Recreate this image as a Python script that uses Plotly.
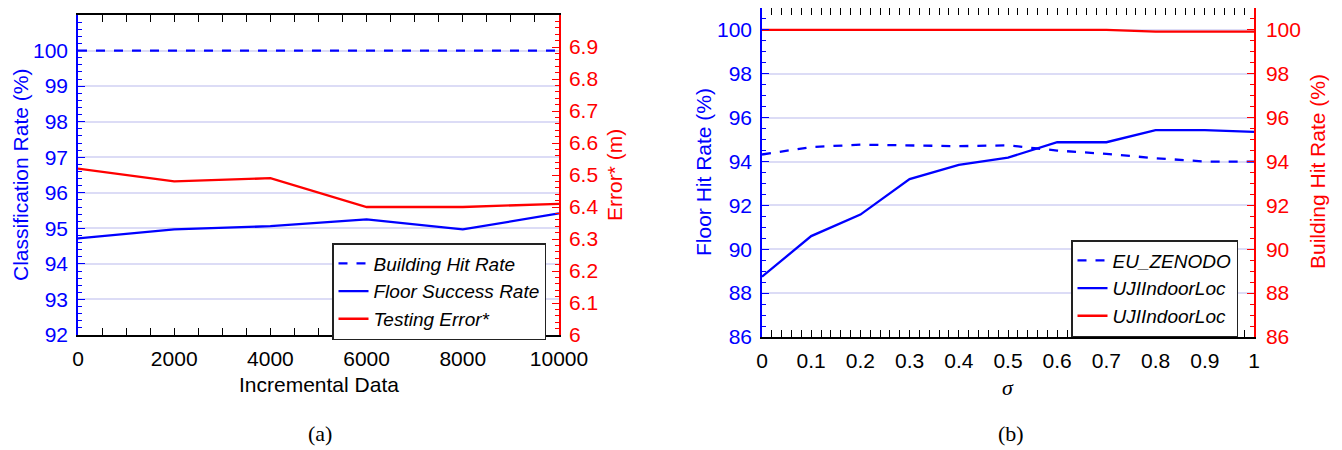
import plotly.graph_objects as go

# ---- data (a) ----
incr_x = [0, 2000, 4000, 6000, 8000, 10000]
building_hit_a = [100, 100, 100, 100, 100, 100]
floor_success_a = [94.72, 94.97, 95.06, 95.25, 94.97, 95.42]
testing_error_a = [6.52, 6.48, 6.49, 6.40, 6.40, 6.41]

# ---- data (b) ----
sigma_x = [0, 0.1, 0.2, 0.3, 0.4, 0.5, 0.6, 0.7, 0.8, 0.9, 1.0]
eu_zenodo_floor = [94.32, 94.66, 94.77, 94.72, 94.70, 94.74, 94.50, 94.35, 94.15, 94.0, 94.0]
uji_floor = [88.75, 90.6, 91.58, 93.2, 93.85, 94.18, 94.88, 94.88, 95.43, 95.43, 95.35]
uji_building = [100, 100, 100, 100, 100, 100, 100, 100, 99.92, 99.92, 99.92]

left_ticks_a = [92, 93, 94, 95, 96, 97, 98, 99, 100]
right_ticks_a = [6.0, 6.1, 6.2, 6.3, 6.4, 6.5, 6.6, 6.7, 6.8, 6.9, 7.0]
right_ticktext_a = ["6", "6.1", "6.2", "6.3", "6.4", "6.5", "6.6", "6.7", "6.8", "6.9", "7"]
ticks_b = [86, 88, 90, 92, 94, 96, 98, 100]
sigma_ticks = [0, 0.1, 0.2, 0.3, 0.4, 0.5, 0.6, 0.7, 0.8, 0.9, 1]
sigma_ticktext = ["0", "0.1", "0.2", "0.3", "0.4", "0.5", "0.6", "0.7", "0.8", "0.9", "1"]

BLUE = "#0000ff"
RED = "#ff0000"
GRID = "#dcdcf6"
SANS = "Liberation Sans, Arial, sans-serif"
SERIF = "Liberation Serif, Times New Roman, serif"
FS = 21
LW = 2.3

# page body has an 8px margin; figure is sized so it fits in the window
OFF = 8
W, H = 1342 - OFF, 450 - OFF
def clamp(v):
    return max(0.0, min(1.0, v))
def fx(x):
    return clamp((x - OFF) / W)
def fy(y):
    return clamp(1 - (y - OFF) / H)
def px(x0, x1):
    return [fx(x0), fx(x1)]
def py(top, bottom):
    return [fy(bottom), fy(top)]

fig = go.Figure()

fig.add_trace(go.Scatter(x=incr_x, y=building_hit_a, mode="lines", name="<i>Building Hit Rate</i>",
                         line=dict(color=BLUE, width=LW, dash="dash"), xaxis="x", yaxis="y", legend="legend"))
fig.add_trace(go.Scatter(x=incr_x, y=floor_success_a, mode="lines", name="<i>Floor Success Rate</i>",
                         line=dict(color=BLUE, width=LW), xaxis="x", yaxis="y", legend="legend"))
fig.add_trace(go.Scatter(x=incr_x, y=testing_error_a, mode="lines", name="<i>Testing Error*</i>",
                         line=dict(color=RED, width=LW), xaxis="x", yaxis="y2", legend="legend"))

fig.add_trace(go.Scatter(x=sigma_x, y=eu_zenodo_floor, mode="lines", name="<i>EU_ZENODO</i>",
                         line=dict(color=BLUE, width=LW, dash="dash"), xaxis="x2", yaxis="y3", legend="legend2"))
fig.add_trace(go.Scatter(x=sigma_x, y=uji_floor, mode="lines", name="<i>UJIIndoorLoc</i>",
                         line=dict(color=BLUE, width=LW), xaxis="x2", yaxis="y3", legend="legend2"))
fig.add_trace(go.Scatter(x=sigma_x, y=uji_building, mode="lines", name="<i>UJIIndoorLoc</i>",
                         line=dict(color=RED, width=LW), xaxis="x2", yaxis="y4", legend="legend2"))

common_x = dict(showline=True, linecolor="black", linewidth=1.5, mirror="allticks", ticks="inside",
                ticklen=7, tickcolor="black", tickwidth=1.2, showgrid=False, zeroline=False,
                tickfont=dict(family=SANS, size=FS, color="black"), ticklabelstandoff=4,
                automargin=False)

fig.update_layout(
    width=W, height=H,
    margin=dict(l=0, r=0, t=0, b=0, autoexpand=False),
    paper_bgcolor="white", plot_bgcolor="white",
    showlegend=True,
    xaxis=dict(domain=px(78, 559), anchor="y", range=[0, 10000], tickmode="array",
               tickvals=incr_x, ticktext=[str(v) for v in incr_x],
               minor=dict(ticks="inside", dtick=500, tick0=0, ticklen=4, tickcolor="black", showgrid=False),
               **common_x),
    yaxis=dict(domain=py(15, 335), anchor="x", range=[92, 101], tickmode="array", tickvals=left_ticks_a,
               showline=True, linecolor=BLUE, linewidth=1.5, ticks="inside", ticklen=7, tickcolor=BLUE,
               minor=dict(ticks="inside", dtick=0.2, tick0=92, ticklen=4, tickcolor=BLUE, showgrid=False),
               showgrid=True, gridcolor=GRID, gridwidth=1.5, zeroline=False, automargin=False,
               tickfont=dict(family=SANS, size=FS, color=BLUE), ticklabelstandoff=4),
    yaxis2=dict(overlaying="y", side="right", anchor="x", range=[6, 7], tickmode="array",
                tickvals=right_ticks_a, ticktext=right_ticktext_a,
                showline=True, linecolor=RED, linewidth=1.5, ticks="inside", ticklen=7, tickcolor=RED,
                minor=dict(ticks="inside", dtick=0.02, tick0=6, ticklen=4, tickcolor=RED, showgrid=False),
                showgrid=False, zeroline=False, automargin=False,
                tickfont=dict(family=SANS, size=FS, color=RED), ticklabelstandoff=4),
    xaxis2=dict(domain=px(762, 1254), anchor="y3", range=[0, 1], tickmode="array",
                tickvals=sigma_ticks, ticktext=sigma_ticktext,
                minor=dict(ticks="inside", dtick=0.02, tick0=0, ticklen=4, tickcolor="black", showgrid=False),
                **common_x),
    yaxis3=dict(domain=py(8, 337), anchor="x2", range=[86, 101], tickmode="array", tickvals=ticks_b,
                showline=True, linecolor=BLUE, linewidth=1.5, ticks="inside", ticklen=7, tickcolor=BLUE,
                minor=dict(ticks="inside", dtick=0.5, tick0=86, ticklen=4, tickcolor=BLUE, showgrid=False),
                showgrid=True, gridcolor=GRID, gridwidth=1.5, zeroline=False, automargin=False,
                tickfont=dict(family=SANS, size=FS, color=BLUE), ticklabelstandoff=4),
    yaxis4=dict(overlaying="y3", side="right", anchor="x2", range=[86, 101], tickmode="array", tickvals=ticks_b,
                showline=True, linecolor=RED, linewidth=1.5, ticks="inside", ticklen=7, tickcolor=RED,
                minor=dict(ticks="inside", dtick=0.5, tick0=86, ticklen=4, tickcolor=RED, showgrid=False),
                showgrid=False, zeroline=False, automargin=False,
                tickfont=dict(family=SANS, size=FS, color=RED), ticklabelstandoff=6),
    legend=dict(x=fx(332), y=fy(243), xanchor="left", yanchor="top", bgcolor="white",
                bordercolor="#222222", borderwidth=1.5, font=dict(family=SANS, size=19, color="black"),
                tracegroupgap=0, itemwidth=30),
    legend2=dict(x=fx(1071), y=fy(240), xanchor="left", yanchor="top", bgcolor="white",
                 bordercolor="#222222", borderwidth=1.5, font=dict(family=SANS, size=19, color="black"),
                 tracegroupgap=0, itemwidth=30),
)

annots = [
    dict(text="Classification Rate (%)", x=fx(20), y=fy(175), textangle=-90, font=dict(family=SANS, size=FS, color=BLUE)),
    dict(text="Error* (m)", x=fx(614), y=fy(175), textangle=-90, font=dict(family=SANS, size=FS, color=RED)),
    dict(text="Incremental Data", x=fx(319), y=fy(384), font=dict(family=SANS, size=FS, color="black")),
    dict(text="(a)", x=fx(320), y=fy(433), font=dict(family=SERIF, size=22, color="black")),
    dict(text="Floor Hit Rate (%)", x=fx(703), y=fy(172), textangle=-90, font=dict(family=SANS, size=FS, color=BLUE)),
    dict(text="Building Hit Rate (%)", x=fx(1317), y=fy(172), textangle=-90, font=dict(family=SANS, size=FS, color=RED)),
    dict(text="<i>σ</i>", x=fx(1008), y=fy(387), font=dict(family=SERIF, size=22, color="black")),
    dict(text="(b)", x=fx(1011), y=fy(433), font=dict(family=SERIF, size=22, color="black")),
]
for a in annots:
    a.update(xref="paper", yref="paper", showarrow=False, xanchor="center", yanchor="middle")
fig.update_layout(annotations=annots)

fig.write_html("out.html")
